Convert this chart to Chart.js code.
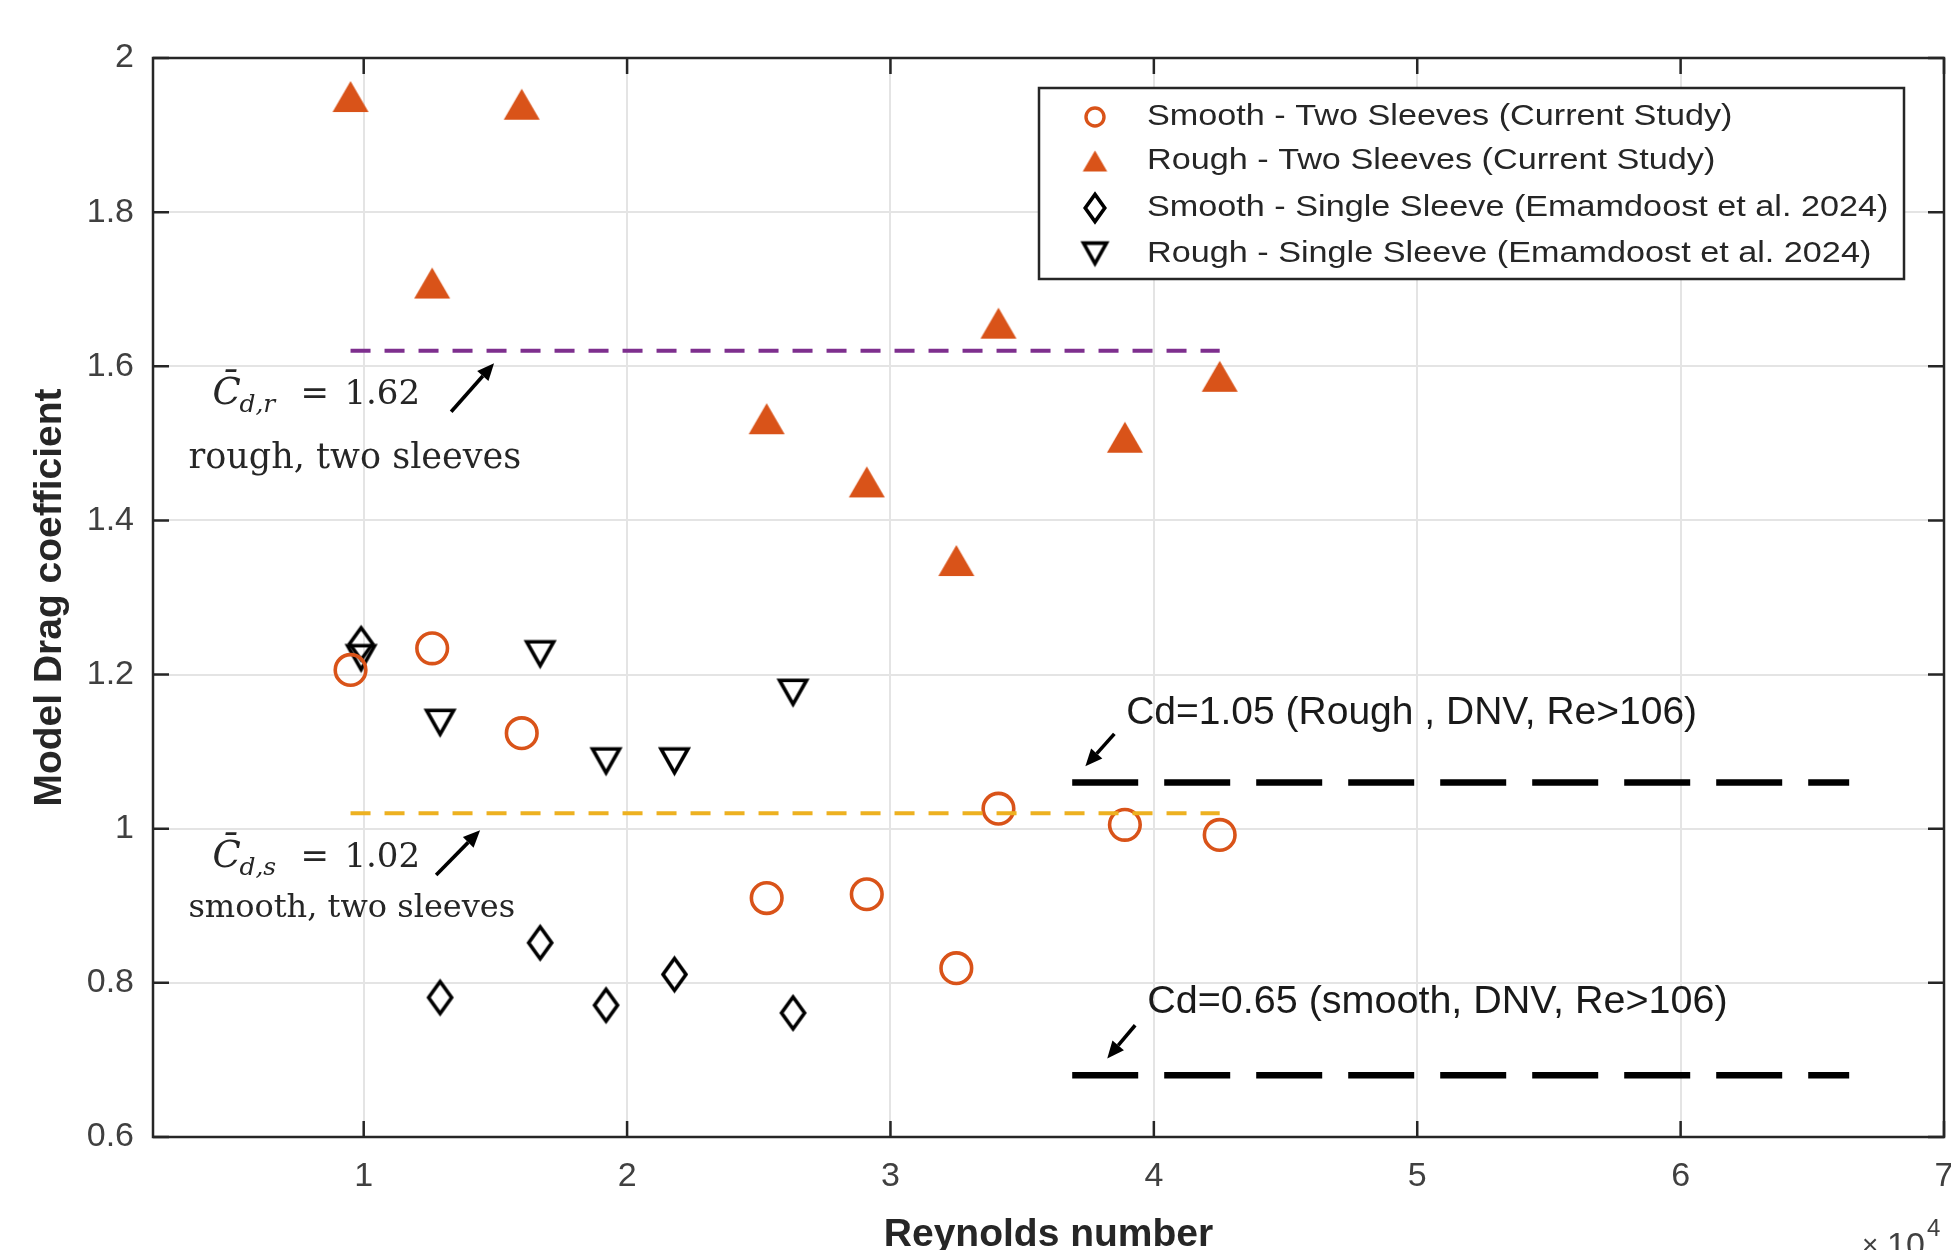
<!DOCTYPE html>
<html>
<head>
<meta charset="utf-8">
<script src="https://cdn.jsdelivr.net/npm/chart.js@4.4.1/dist/chart.umd.min.js"></script>
<style>
html,body{margin:0;padding:0;background:#fff;}
canvas{display:block;}
</style>
</head>
<body>
<canvas id="c" width="1951" height="1250"></canvas>
<script>
// ---------------- data ----------------
const seriesLabels = [
  'Smooth - Two Sleeves (Current Study)',
  'Rough - Two Sleeves (Current Study)',
  'Smooth - Single Sleeve (Emamdoost et al. 2024)',
  'Rough - Single Sleeve (Emamdoost et al. 2024)'
];
const reynoldsTwo    = [0.95, 1.26, 1.60, 2.53, 2.91, 3.25, 3.41, 3.89, 4.25];
const cdSmoothTwo    = [1.206, 1.234, 1.124, 0.910, 0.915, 0.819, 1.026, 1.005, 0.992];
const cdRoughTwo     = [1.950, 1.708, 1.940, 1.532, 1.450, 1.348, 1.656, 1.508, 1.587];
const reynoldsSingle = [0.99, 1.29, 1.67, 1.92, 2.18, 2.63];
const cdSmoothSingle = [1.240, 0.781, 0.852, 0.771, 0.811, 0.761];
const cdRoughSingle  = [1.221, 1.137, 1.226, 1.087, 1.087, 1.176];
const meanRange  = [0.95, 4.25];
const meanRough  = 1.62;
const meanSmooth = 1.02;
const dnvRange   = [3.69, 6.64];
const dnvRough   = 1.06;
const dnvSmooth  = 0.68;
const xTickValues = [1, 2, 3, 4, 5, 6, 7];
const yTickValues = [0.6, 0.8, 1, 1.2, 1.4, 1.6, 1.8, 2];
const xTitle = 'Reynolds number';
const yTitle = 'Model Drag coefficient';
const roughMeanText  = {sub: 'd,r', value: '1.62', words: 'rough, two sleeves'};
const smoothMeanText = {sub: 'd,s', value: '1.02', words: 'smooth, two sleeves'};
const dnvRoughText  = 'Cd=1.05 (Rough , DNV, Re>106)';
const dnvSmoothText = 'Cd=0.65 (smooth, DNV, Re>106)';

// ---------------- styling helpers ----------------
const ORANGE = '#D95319', PURPLE = '#7E2F8E', YELLOW = '#EDB120', AX = '#262626';
Chart.defaults.font.family = "'Liberation Sans', Arial, sans-serif";

function makeCanvas(w, h, fn) {
  const c = document.createElement('canvas');
  c.width = w; c.height = h;
  const g = c.getContext('2d');
  fn(g, w / 2, h / 2);
  return c;
}
function upTri(s) { // filled triangle, bbox centred
  const hw = 18 * s, hh = 15.5 * s;
  const W = Math.ceil(2 * hw + 4), H = Math.ceil(2 * hh + 4);
  return makeCanvas(W, H, (g, cx, cy) => {
    g.fillStyle = ORANGE;
    g.beginPath(); g.moveTo(cx, cy - hh); g.lineTo(cx + hw, cy + hh); g.lineTo(cx - hw, cy + hh); g.closePath(); g.fill();
  });
}
function downTri(s, lw) {
  const hw = 13.5 * s, top = 12.8 * s, bot = 11.2 * s;
  const W = Math.ceil(2 * hw + 14), H = Math.ceil(top + bot + 16);
  return makeCanvas(W, H, (g, cx, cy) => {
    g.strokeStyle = '#000'; g.lineWidth = lw; g.lineJoin = 'miter';
    g.beginPath(); g.moveTo(cx - hw, cy - top); g.lineTo(cx + hw, cy - top); g.lineTo(cx, cy + bot); g.closePath(); g.stroke();
  });
}
function diamond(s, lw) {
  const hw = 11.5 * s, hh = 16 * s;
  const W = Math.ceil(2 * hw + 12), H = Math.ceil(2 * hh + 14);
  return makeCanvas(W, H, (g, cx, cy) => {
    g.strokeStyle = '#000'; g.lineWidth = lw; g.lineJoin = 'miter';
    g.beginPath(); g.moveTo(cx, cy - hh); g.lineTo(cx + hw, cy); g.lineTo(cx, cy + hh); g.lineTo(cx - hw, cy); g.closePath(); g.stroke();
  });
}
const mkUp = upTri(1), mkDown = downTri(1, 3.6), mkDia = diamond(1, 3.6);
const lgUp = upTri(0.68), lgDown = downTri(0.85, 3.6), lgDia = diamond(0.85, 3.6);

const pts = (xs, ys) => xs.map((x, i) => ({x, y: ys[i]}));
const seg = (r, v) => [{x: r[0], y: v}, {x: r[1], y: v}];

// ---------------- plugins ----------------
const frameTicks = {
  id: 'frameTicks',
  afterDatasetsDraw(chart) {
    const {ctx, chartArea: a, scales: {x, y}} = chart;
    ctx.save();
    ctx.strokeStyle = AX; ctx.lineWidth = 2.5;
    const L = 16;
    ctx.beginPath();
    xTickValues.forEach(v => {
      const p = x.getPixelForValue(v);
      ctx.moveTo(p, a.bottom); ctx.lineTo(p, a.bottom - L);
      ctx.moveTo(p, a.top); ctx.lineTo(p, a.top + L);
    });
    yTickValues.forEach(v => {
      const p = y.getPixelForValue(v);
      ctx.moveTo(a.left, p); ctx.lineTo(a.left + L, p);
      ctx.moveTo(a.right, p); ctx.lineTo(a.right - L, p);
    });
    ctx.stroke();
    ctx.strokeRect(a.left, a.top, a.right - a.left, a.bottom - a.top);
    ctx.restore();
  }
};

function arrow(ctx, x1, y1, x2, y2) {
  const ang = Math.atan2(y2 - y1, x2 - x1);
  const hl = 17, hw = 7.5;
  const bx = x2 - Math.cos(ang) * hl, by = y2 - Math.sin(ang) * hl;
  ctx.strokeStyle = '#000'; ctx.fillStyle = '#000'; ctx.lineWidth = 3.6;
  ctx.beginPath(); ctx.moveTo(x1, y1); ctx.lineTo(bx, by); ctx.stroke();
  ctx.beginPath();
  ctx.moveTo(x2, y2);
  ctx.lineTo(bx + Math.sin(ang) * hw, by - Math.cos(ang) * hw);
  ctx.lineTo(bx - Math.sin(ang) * hw, by + Math.cos(ang) * hw);
  ctx.closePath(); ctx.fill();
}

const annotations = {
  id: 'annotations',
  afterDraw(chart) {
    const {ctx, scales: {x, y}} = chart;
    const P = (vx, vy) => [x.getPixelForValue(vx), y.getPixelForValue(vy)];
    ctx.save();
    ctx.textAlign = 'left'; ctx.textBaseline = 'alphabetic';
    ctx.fillStyle = AX;

    function meanLabel(anchor, t, wordsAnchor, wordsSize) {
      const [px, py] = P(anchor[0], anchor[1]);
      ctx.fillStyle = AX;
      ctx.font = 'italic 37px "DejaVu Serif"';
      ctx.fillText('C\u0304', px, py);
      ctx.font = 'italic 25px "DejaVu Serif"';
      ctx.fillText(t.sub, px + 27, py + 8);
      ctx.font = '34px "DejaVu Serif"';
      ctx.fillText('=', px + 88, py);
      ctx.fillText(t.value, px + 132, py);
      const [wx, wy] = P(wordsAnchor[0], wordsAnchor[1]);
      ctx.font = wordsSize + 'px "DejaVu Serif"';
      ctx.fillText(t.words, wx, wy);
    }
    meanLabel([0.4255, 1.551], roughMeanText, [0.3345, 1.468], 35);
    meanLabel([0.4255, 0.9503], smoothMeanText, [0.3345, 0.8854], 32);

    let a = P(1.332, 1.541), b = P(1.495, 1.604); arrow(ctx, a[0], a[1], b[0], b[1]);
    a = P(1.275, 0.940); b = P(1.442, 0.998); arrow(ctx, a[0], a[1], b[0], b[1]);
    a = P(3.85, 1.123); b = P(3.740, 1.081); arrow(ctx, a[0], a[1], b[0], b[1]);
    a = P(3.929, 0.745); b = P(3.823, 0.702); arrow(ctx, a[0], a[1], b[0], b[1]);

    ctx.fillStyle = '#1a1a1a';
    ctx.font = "39px 'Liberation Sans'";
    let t = P(3.895, 1.136); ctx.fillText(dnvRoughText, t[0], t[1]);
    ctx.font = "39.5px 'Liberation Sans'";
    t = P(3.975, 0.761); ctx.fillText(dnvSmoothText, t[0], t[1]);

    // x10^4 exponent label
    ctx.fillStyle = '#404040';
    ctx.font = "28px 'Liberation Sans'";
    ctx.fillText('\u00d7', 1862, 1254);
    ctx.font = "34px 'Liberation Sans'";
    ctx.fillText('10', 1887, 1256);
    ctx.font = "24px 'Liberation Sans'";
    ctx.fillText('4', 1927, 1236);
    ctx.restore();
  }
};

const boxLegend = {
  id: 'boxLegend',
  afterDraw(chart) {
    const {ctx, chartArea: a} = chart;
    const w = 865, h = 191;
    const left = a.right - 40 - w, top = a.top + 30;
    ctx.save();
    ctx.fillStyle = '#fff';
    ctx.fillRect(left, top, w, h);
    ctx.strokeStyle = AX; ctx.lineWidth = 2.5;
    ctx.strokeRect(left, top, w, h);
    const rows = [29, 73, 120, 166];
    const mx = left + 56, tx = left + 108;
    rows.forEach((r, i) => {
      const cy = top + r;
      if (i === 0) {
        ctx.strokeStyle = ORANGE; ctx.lineWidth = 3.4;
        ctx.beginPath(); ctx.arc(mx, cy, 9, 0, Math.PI * 2); ctx.stroke();
      } else {
        const img = [null, lgUp, lgDia, lgDown][i];
        ctx.drawImage(img, mx - img.width / 2, cy - img.height / 2);
      }
      ctx.fillStyle = AX;
      ctx.font = "30px 'Liberation Sans'";
      ctx.textBaseline = 'middle'; ctx.textAlign = 'left';
      ctx.save(); ctx.translate(tx, cy); ctx.scale(1.14, 1);
      ctx.fillText(chart.data.datasets[i].label, 0, 0);
      ctx.restore();
    });
    ctx.restore();
  }
};

// ---------------- chart ----------------
const lineDs = (label, data, color, width, dash) => ({
  label, data, showLine: true, borderColor: color, borderWidth: width,
  borderDash: dash, pointRadius: 0, fill: false, order: 0
});

new Chart(document.getElementById('c'), {
  type: 'scatter',
  data: {
    datasets: [
      {label: seriesLabels[0], data: pts(reynoldsTwo, cdSmoothTwo), pointStyle: 'circle', pointRadius: 15.3,
       pointBorderColor: ORANGE, pointBackgroundColor: 'rgba(0,0,0,0)', pointBorderWidth: 3.6, order: 1},
      {label: seriesLabels[1], data: pts(reynoldsTwo, cdRoughTwo), pointStyle: mkUp, pointRadius: 18, order: 1},
      {label: seriesLabels[2], data: pts(reynoldsSingle, cdSmoothSingle), pointStyle: mkDia, pointRadius: 18, order: 1},
      {label: seriesLabels[3], data: pts(reynoldsSingle, cdRoughSingle), pointStyle: mkDown, pointRadius: 18, order: 1},
      lineDs('Mean rough', seg(meanRange, meanRough), PURPLE, 4, [20, 14]),
      lineDs('Mean smooth', seg(meanRange, meanSmooth), YELLOW, 4, [20, 14]),
      lineDs('DNV rough', seg(dnvRange, dnvRough), '#000', 6.5, [66, 26]),
      lineDs('DNV smooth', seg(dnvRange, dnvSmooth), '#000', 6.5, [66, 26])
    ]
  },
  options: {
    responsive: false,
    animation: false,
    events: [],
    layout: {autoPadding: false, padding: {left: 0, top: 58, right: 7, bottom: 0}},
    plugins: {legend: {display: false}, tooltip: {enabled: false}},
    scales: {
      x: {
        type: 'linear', position: 'bottom', min: 0.2, max: 7,
        afterBuildTicks: s => { s.ticks = xTickValues.map(v => ({value: v})); },
        afterFit: s => { s.height = 113; s.paddingLeft = 0; s.paddingRight = 0; },
        grid: {color: '#e4e4e4', lineWidth: 2, drawTicks: false},
        border: {display: false},
        ticks: {padding: 19, color: '#404040', font: {size: 34}, callback: v => String(v)},
        title: {display: true, text: xTitle, color: AX, font: {size: 39, weight: 'bold', lineHeight: 0.75}, padding: {top: 0, bottom: 0}}
      },
      y: {
        type: 'linear', position: 'left', min: 0.6, max: 2,
        afterBuildTicks: s => { s.ticks = yTickValues.map(v => ({value: v})); },
        afterFit: s => { s.width = 153; s.paddingTop = 0; s.paddingBottom = 0; },
        grid: {color: '#e4e4e4', lineWidth: 2, drawTicks: false},
        border: {display: false},
        ticks: {padding: 19, color: '#404040', font: {size: 34}, callback: v => String(parseFloat(Number(v).toFixed(2)))},
        title: {display: true, text: yTitle, color: AX, font: {size: 39, weight: 'bold', lineHeight: 1.2}, padding: {top: 27, bottom: 0}}
      }
    }
  },
  plugins: [frameTicks, annotations, boxLegend]
});
</script>
</body>
</html>
